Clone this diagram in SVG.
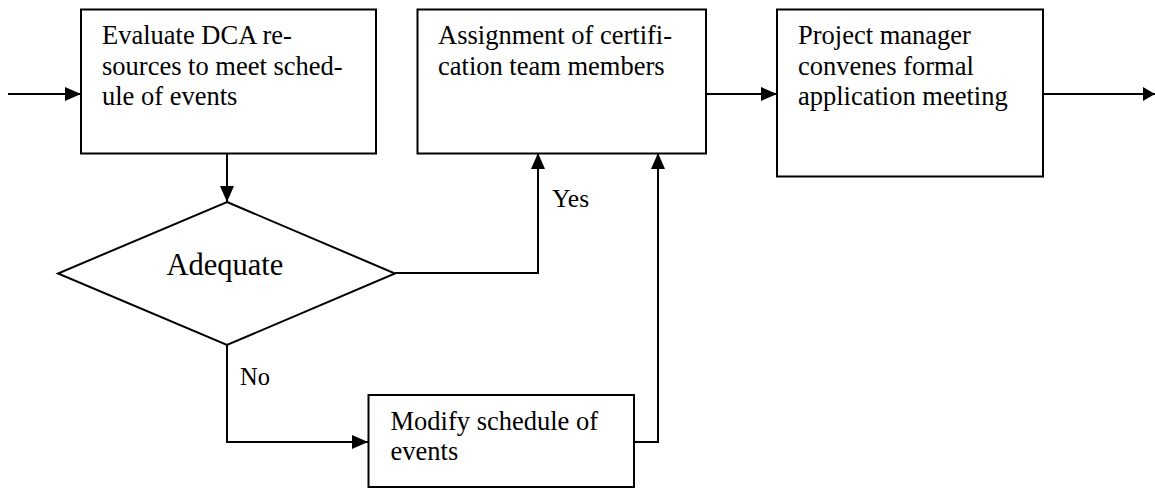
<svg xmlns="http://www.w3.org/2000/svg" width="1155" height="488" viewBox="0 0 1155 488">
<style>
.box{fill:#fff;stroke:#000;stroke-width:2}
.t{font-family:"Liberation Serif","Times New Roman",serif;font-size:26.5px;fill:#000}
.c{fill:none;stroke:#000;stroke-width:2}
</style>
<defs>
<marker id="ah" markerUnits="userSpaceOnUse" markerWidth="16" markerHeight="14" refX="16" refY="7" orient="auto">
<path d="M0,0 L16,7 L0,14 z" fill="#000"/>
</marker>
<marker id="ahs" markerUnits="userSpaceOnUse" markerWidth="12" markerHeight="14" refX="12" refY="7" orient="auto">
<path d="M0,0 L12,7 L0,14 z" fill="#000"/>
</marker>
</defs>
<rect width="1155" height="488" fill="#fff"/>
<g id="connectors">
<path class="c" d="M8,94 H81" marker-end="url(#ah)"/>
<path class="c" d="M227,153 V202" marker-end="url(#ah)"/>
<path class="c" d="M706,94 H777" marker-end="url(#ah)"/>
<path class="c" d="M1043,94 H1155" marker-end="url(#ahs)"/>
<path class="c" d="M395,273 H538 V153" marker-end="url(#ah)"/>
<path class="c" d="M227,345 V442 H368" marker-end="url(#ah)"/>
<path class="c" d="M634,442 H658 V153" marker-end="url(#ah)"/>
<text class="t" x="552" y="207" style="font-size:25.5px">Yes</text>
<text class="t" x="240" y="385" style="font-size:24.5px">No</text>
</g>
<g id="evaluate">
<rect class="box" x="81" y="9.5" width="295" height="144"/>
<text class="t" x="102" y="44">Evaluate DCA re-</text>
<text class="t" x="102" y="74.5">sources to meet sched-</text>
<text class="t" x="102" y="105">ule of events</text>
</g>
<g id="assignment">
<rect class="box" x="417.5" y="9.5" width="288.5" height="144"/>
<text class="t" x="438" y="44">Assignment of certifi-</text>
<text class="t" x="438" y="74.5">cation team members</text>
</g>
<g id="project">
<rect class="box" x="777" y="9.5" width="266" height="167"/>
<text class="t" x="798" y="44">Project manager</text>
<text class="t" x="798" y="74.5">convenes formal</text>
<text class="t" x="798" y="105">application meeting</text>
</g>
<g id="adequate">
<polygon class="box" points="227,202 395,273.5 227,345 58,273.5"/>
<text class="t" x="166.5" y="275" style="font-size:30.5px">Adequate</text>
</g>
<g id="modify">
<rect class="box" x="368.5" y="395" width="265.5" height="92"/>
<text class="t" x="390.5" y="430">Modify schedule of</text>
<text class="t" x="390.5" y="460">events</text>
</g>
</svg>
